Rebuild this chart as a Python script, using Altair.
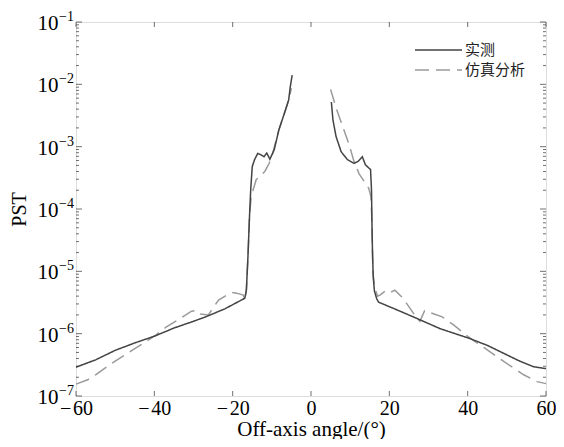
import altair as alt
import pandas as pd

# ---------------- data ----------------
series_names = ["实测", "仿真分析"]

meas_left_x = [-60, -55, -50, -45, -40, -35, -30, -26.9, -22, -18, -16.9, -16.5, -16.1, -15.7,
               -15.4, -15.0, -14.4, -13.6, -12.8, -12.0, -11.3, -10.5, -9.9, -9.4, -8.2, -6.5,
               -5.7, -5.3, -4.8]
meas_left_y = [2.9e-7, 3.8e-7, 5.4e-7, 7.1e-7, 9.1e-7, 1.23e-6, 1.58e-6, 1.86e-6, 2.5e-6, 3.4e-6,
               3.7e-6, 5.0e-6, 1.7e-5, 7.6e-5, 2.0e-4, 4.8e-4, 6.2e-4, 7.8e-4, 7.4e-4, 6.9e-4,
               7.9e-4, 6.3e-4, 7.6e-4, 8.9e-4, 1.86e-3, 3.9e-3, 5.6e-3, 9.1e-3, 1.41e-2]

sim_left_x = [-60, -57, -55, -50, -45, -40, -36.9, -34, -30.5, -29.5, -28.8, -26.2, -23.6, -21.5,
              -20.3, -19, -17.3, -16.9, -16.5, -16.1, -15.7, -15.2, -14.8, -14.0, -11.8, -10.7,
              -9.8, -8.2, -6.5, -5.7, -5.0]
sim_left_y = [1.55e-7, 1.82e-7, 2.19e-7, 3.63e-7, 5.75e-7, 9.1e-7, 1.29e-6, 1.66e-6, 2.29e-6,
              2.34e-6, 2.09e-6, 2.0e-6, 3.47e-6, 4.17e-6, 4.57e-6, 4.47e-6, 4.17e-6, 3.47e-6,
              5.0e-6, 1.7e-5, 7.6e-5, 1.78e-4, 2.0e-4, 2.95e-4, 4.0e-4, 5.37e-4, 7.76e-4,
              1.86e-3, 3.9e-3, 5.6e-3, 8.7e-3]

meas_right_x = [5.2, 5.6, 6.4, 7.7, 9.3, 11.0, 12.0, 13.1, 13.9, 15.2, 15.45, 15.55, 15.7, 15.9,
                16.2, 16.8, 17.25, 22, 26.8, 33, 40.2, 45, 49.3, 53, 56.8, 60]
meas_right_y = [5.2e-3, 2.7e-3, 1.45e-3, 8.3e-4, 6.2e-4, 5.4e-4, 5.8e-4, 6.9e-4, 5.1e-4, 4.3e-4,
                2.0e-4, 6.6e-5, 2.0e-5, 7.9e-6, 4.8e-6, 3.6e-6, 3.2e-6, 2.4e-6, 1.78e-6, 1.2e-6,
                8.5e-7, 6.5e-7, 4.8e-7, 3.7e-7, 2.95e-7, 2.75e-7]

sim_right_x = [5.0, 6.4, 8.1, 9.75, 11.0, 12.25, 14.75, 15.3, 15.55, 15.8, 16.2, 17.0, 17.7, 18.9,
               20.0, 21.4, 23.5, 26.8, 27.8, 29.0, 33.5, 36.4, 40.2, 44.3, 49.3, 54.3, 57.7, 60]
sim_right_y = [8.3e-3, 4.2e-3, 2.1e-3, 1.07e-3, 5.75e-4, 3.7e-4, 2.14e-4, 1.58e-4, 6.6e-5,
               1.0e-5, 5.6e-6, 4.0e-6, 4.2e-6, 4.8e-6, 4.5e-6, 5.0e-6, 3.7e-6, 1.86e-6, 1.58e-6,
               2.34e-6, 1.86e-6, 1.38e-6, 8.9e-7, 5.9e-7, 3.55e-7, 2.19e-7, 1.7e-7, 1.58e-7]

x_ticks = [-60, -40, -20, 0, 20, 40, 60]
y_major = [1e-7, 1e-6, 1e-5, 1e-4, 1e-3, 1e-2, 1e-1]
y_minor = [k * m for m in [1e-7, 1e-6, 1e-5, 1e-4, 1e-3, 1e-2] for k in range(2, 10)]
y_base_text = ["10"] * 7
y_exp_text = ["−7", "−6", "−5", "−4", "−3", "−2", "−1"]

# ---------------- build table ----------------
rows = []
for name, branch, xs_, ys_ in [
    (series_names[1], "L", sim_left_x, sim_left_y),
    (series_names[1], "R", sim_right_x, sim_right_y),
    (series_names[0], "L", meas_left_x, meas_left_y),
    (series_names[0], "R", meas_right_x, meas_right_y),
]:
    for i, (xv, yv) in enumerate(zip(xs_, ys_)):
        rows.append({"series": name, "branch": name + branch, "x": xv, "y": yv, "i": i})
df = pd.DataFrame(rows)

SERIF = "Liberation Serif"
CJK = "Noto Sans CJK SC"
FRAME = "#333333"
colors = ["#444444", "#9a9a9a"]
dashes = [[1, 0], [14, 7]]

xs = alt.Scale(domain=[-60, 60], nice=False, zero=False)
ys = alt.Scale(type="log", domain=[1e-7, 1e-1], nice=False)

lines = alt.Chart(df).mark_line(strokeWidth=1.5).encode(
    x=alt.X("x:Q", scale=xs, axis=alt.Axis(
        values=x_ticks, title="Off-axis angle/(°)", ticks=False, domain=False, grid=False,
        labelFont=SERIF, labelFontSize=20, labelPadding=2, labelColor="black",
        labelFlush=False, labelExpr="replace(datum.label, '−', '−\u200a')",
        titleFont=SERIF, titleFontSize=21, titleFontWeight="normal", titleColor="black",
        titleY=33, titleBaseline="middle")),
    y=alt.Y("y:Q", scale=ys, axis=alt.Axis(
        values=y_major, labels=False, title="PST", ticks=False, domain=False, grid=False,
        titleFont=SERIF, titleFontSize=20, titleFontWeight="normal", titleColor="black",
        titleX=-57, titleY=187, titleBaseline="middle")),
    color=alt.Color("series:N", scale=alt.Scale(domain=series_names, range=colors), legend=None),
    strokeDash=alt.StrokeDash("series:N", scale=alt.Scale(domain=series_names, range=dashes), legend=None),
    detail="branch:N",
    order="i:Q",
)

# y tick labels drawn as "10" + raised exponent
ylab_df = pd.DataFrame({"v": y_major, "b": y_base_text, "e": y_exp_text})
ylab_base = alt.Chart(ylab_df).mark_text(
    align="right", baseline="middle", font=SERIF, fontSize=21, dy=2, color="black").encode(
    x=alt.value(-17.5), y=alt.Y("v:Q", scale=ys), text="b:N")
ylab_exp = alt.Chart(ylab_df).mark_text(
    align="left", baseline="alphabetic", font=SERIF, fontSize=14, dy=-1, color="black").encode(
    x=alt.value(-17), y=alt.Y("v:Q", scale=ys), text="e:N")

def yticks(values, size, side):
    d = pd.DataFrame({"v": values})
    xv = -60 if side == "left" else 60
    off = size / 2 if side == "left" else -size / 2
    return alt.Chart(d).mark_tick(orient="horizontal", size=size, thickness=1,
                                  xOffset=off, color=FRAME).encode(
        x=alt.datum(xv), y=alt.Y("v:Q", scale=ys))

def xticks(values, size, side):
    d = pd.DataFrame({"v": values})
    yv = 1e-7 if side == "bottom" else 1e-1
    off = -size / 2 if side == "bottom" else size / 2
    return alt.Chart(d).mark_tick(orient="vertical", size=size, thickness=1,
                                  yOffset=off, color=FRAME).encode(
        x=alt.X("v:Q", scale=xs), y=alt.datum(yv))

ticks = [
    yticks(y_major, 6, "left"), yticks(y_minor, 3, "left"),
    yticks(y_major, 6, "right"), yticks(y_minor, 3, "right"),
    xticks(x_ticks, 5, "bottom"), xticks(x_ticks, 5, "top"),
]

# manual legend (top-right)
leg_rows = [28, 48]
legend_layers = []
for k, name in enumerate(series_names):
    legend_layers.append(
        alt.Chart(pd.DataFrame({"s": [name]})).mark_rule(
            strokeWidth=1.5, color=colors[k], strokeDash=dashes[k]).encode(
            x=alt.value(339), x2=alt.value(386), y=alt.value(leg_rows[k])))
    legend_layers.append(
        alt.Chart(pd.DataFrame({"s": [name]})).mark_text(
            align="left", baseline="middle", font=CJK, fontSize=15, color="#222222").encode(
            x=alt.value(389), y=alt.value(leg_rows[k]), text="s:N"))

chart = alt.layer(lines, ylab_base, ylab_exp, *ticks, *legend_layers).properties(
    width=470, height=374, autosize="none",
    padding={"left": 68, "top": 14, "right": 10, "bottom": 43},
).configure_view(stroke=FRAME, strokeWidth=1.2).configure(background="white")

chart.save("out.html", embed_options={"renderer": "svg", "actions": False})
